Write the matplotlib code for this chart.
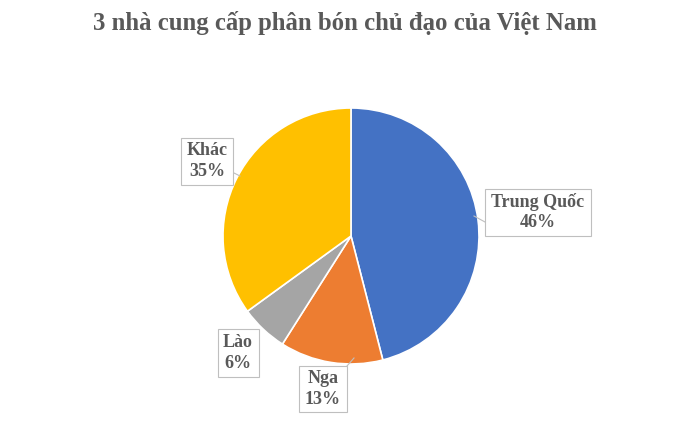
import matplotlib.pyplot as plt
from matplotlib.patches import Rectangle

# --- Data ---
labels = ["Trung Quốc", "Nga", "Lào", "Khác"]
shares = [46, 13, 6, 35]
colors = ["#4472C4", "#ED7D31", "#A5A5A5", "#FFC000"]
title = "3 nhà cung cấp phân bón chủ đạo của Việt Nam"

# label box centres in pixel coords (x, y from top)
label_pos = [(538, 212), (323, 389), (238, 353), (207, 161)]
box_size = [(106, 47), (48, 46), (41, 48), (52, 47)]

W, H = 686, 422
fig = plt.figure(figsize=(W / 100, H / 100), dpi=100)
ax = fig.add_axes([0, 0, 1, 1])

cx, cy, r = 351, H - 236, 128
wedges, _ = ax.pie(shares, colors=colors, startangle=90, counterclock=False,
                   center=(cx, cy), radius=r, frame=True,
                   wedgeprops=dict(edgecolor="white", linewidth=1.2))
ax.set_xlim(0, W)
ax.set_ylim(0, H)
ax.axis("off")

txt_color = "#595959"
font = "Liberation Serif"

ax.text(W / 2 + 2, H - 23, title, ha="center", va="center", fontsize=17.8,
        fontweight="bold", color=txt_color, family=font)

# callout boxes
for lab, val, (px, py), (bw, bh) in zip(labels, shares, label_pos, box_size):
    y = H - py
    ax.add_patch(Rectangle((px - bw / 2, y - bh / 2), bw, bh, facecolor="white",
                           edgecolor="#BFBFBF", linewidth=0.8, zorder=3))
    ax.text(px, y, f"{lab}\n{val}%", ha="center", va="center", fontsize=13,
            fontweight="bold", color=txt_color, family=font, linespacing=1.3, zorder=4)

# leader lines
leaders = [((485, 222), (474, 216)), ((347, 366), (354, 358)),
           ((252, 350), (258, 337)), ((232, 172), (240, 176))]
for (x0, y0), (x1, y1) in leaders:
    ax.plot([x0, x1], [H - y0, H - y1], color="#BFBFBF", linewidth=0.8, zorder=2)

fig.savefig("out.png", dpi=100, facecolor="white")
